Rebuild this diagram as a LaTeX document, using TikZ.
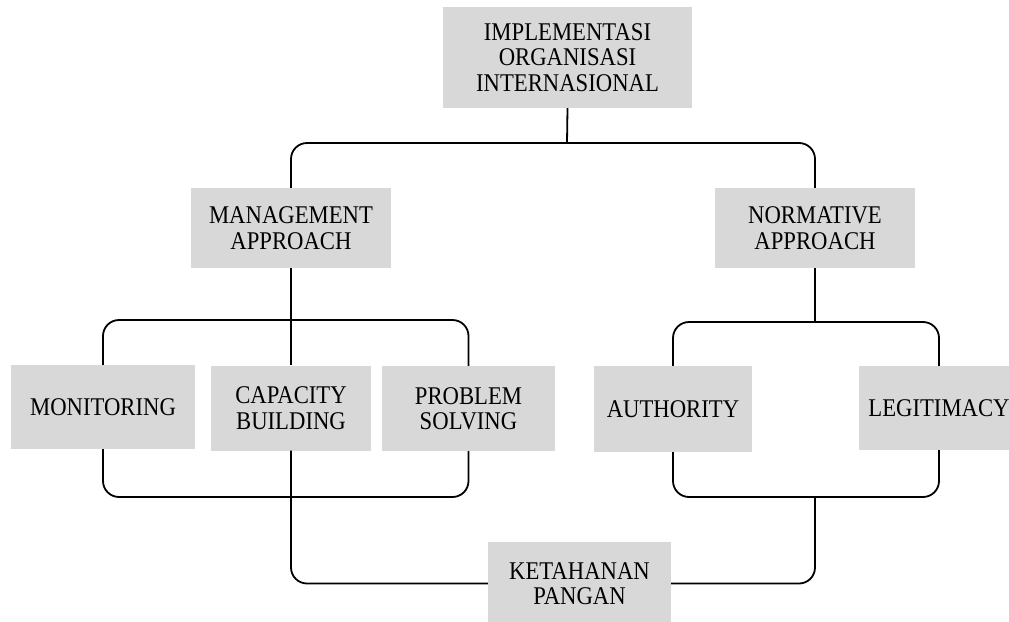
\documentclass[tikz,border=0pt]{standalone}
\usepackage{fontspec}
\setmainfont{Liberation Serif}[FakeStretch=0.89]
\usepackage{tikz}
\definecolor{boxgray}{RGB}{216,216,216}

\begin{document}
\begin{tikzpicture}[x=1pt, y=-1pt,
    box/.style={fill=boxgray, inner sep=0pt, align=center,
        font=\fontsize{25.5}{25.5}\selectfont},
    link/.style={line width=1.8pt, rounded corners=16pt}]
                \useasboundingbox (0,0) rectangle (1009,621);

                % Boxes
                \node[box, minimum width=249, minimum height=101] (impl) at (567.5,57.5) {IMPLEMENTASI\\ORGANISASI\\INTERNASIONAL};
                \node[box, minimum width=200, minimum height=80] (mgmt) at (291,228) {MANAGEMENT\\APPROACH};
                \node[box, minimum width=200, minimum height=80] (norm) at (815,228) {NORMATIVE\\APPROACH};
                \node[box, minimum width=184, minimum height=84] (mon) at (103,407) {MONITORING};
                \node[box, minimum width=160, minimum height=85] (cap) at (291,408) {CAPACITY\\BUILDING};
                \node[box, minimum width=173, minimum height=85] (prob) at (468.5,408.5) {PROBLEM\\SOLVING};
                \node[box, minimum width=158, minimum height=86] (auth) at (673,409) {AUTHORITY};
                \node[box, minimum width=160, minimum height=84] (leg) at (939,408) {LEGITIMACY};
                \node[box, minimum width=183, minimum height=83] (ket) at (579.5,583.5) {KETAHANAN\\PANGAN};

                % Joints
                \coordinate (top) at (567,143);
                \coordinate (mtop) at (291,320);
                \coordinate (mbot) at (291,497);
                \coordinate (ntop) at (815,322);
                \coordinate (nbot) at (815,497);

                % Top level
                \draw[link] (impl.south) -- (top);
                \draw[link] (mgmt.north) |- (top) -| (norm.north);

                % Management approach
                \draw[link] (mgmt.south) -- (cap.north);
                \draw[link] (mon.north) |- (mtop) -| (prob.north);
                \draw[link] (mon.south) |- (mbot) -| (prob.south);
                \draw[link] (cap.south) |- (ket.west);

                % Normative approach
                \draw[link] (norm.south) -- (ntop);
                \draw[link] (auth.north) |- (ntop) -| (leg.north);
                \draw[link] (auth.south) |- (nbot) -| (leg.south);
                \draw[link] (nbot) |- (ket.east);
            \end{tikzpicture}
\end{document}
